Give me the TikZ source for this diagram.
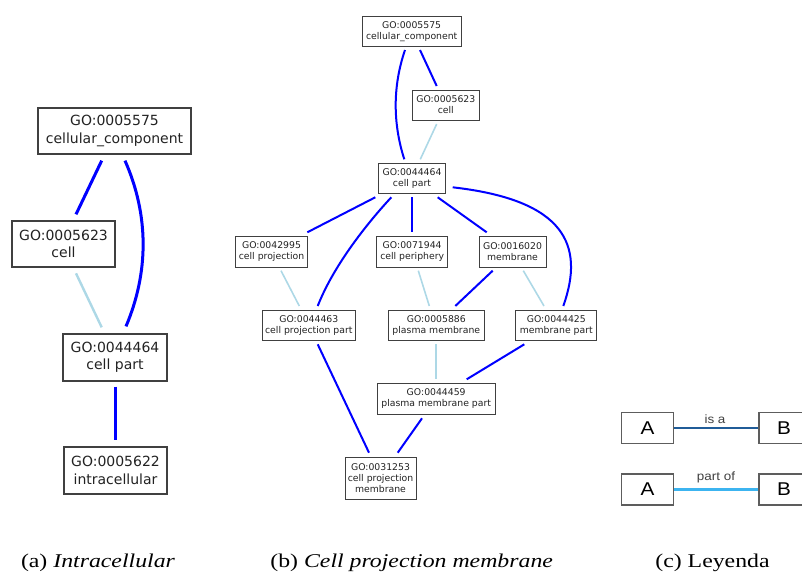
\documentclass[tikz,border=0pt]{standalone}
\usepackage{fontspec}
\usepackage{graphicx}
\usetikzlibrary{calc}
\setmainfont{Liberation Serif}
\newfontfamily\gofont{DejaVu Sans}
\newfontfamily\legfont{Liberation Sans}
\definecolor{isacol}{RGB}{0,0,255}
\definecolor{partcol}{RGB}{173,216,230}
\definecolor{boxcol}{RGB}{64,64,64}
\definecolor{txtcol}{RGB}{34,34,34}
\definecolor{legisacol}{RGB}{32,92,152}
\definecolor{legpartcol}{RGB}{60,180,240}
\tikzset{
  gobig/.style={draw=boxcol, line width=1.3pt, inner sep=0pt, align=center, text=txtcol,
    font=\gofont\fontsize{14}{17.3}\selectfont, minimum height=46pt},
  gosmall/.style={draw=boxcol, line width=1pt, inner sep=0pt, align=center, text=txtcol,
    font=\gofont\fontsize{9.3}{11}\selectfont, minimum height=30.6pt},
  isabig/.style={draw=isacol, line width=3pt},
  partbig/.style={draw=partcol, line width=2.4pt},
  isasmall/.style={draw=isacol, line width=2pt},
  partsmall/.style={draw=partcol, line width=1.6pt},
  legbox/.style={draw=boxcol!85, line width=1.5pt, inner sep=0pt, minimum width=51.6pt,
    minimum height=30.6pt, font=\legfont\fontsize{18.5}{20}\selectfont},
  leglabel/.style={inner sep=0pt, text=black!75, font=\legfont\fontsize{12}{14}\selectfont},
  caption/.style={inner sep=0pt, anchor=base, font=\fontsize{19.5}{22}\selectfont}
}
\begin{document}
\begin{tikzpicture}[x=1pt, y=-1pt]
\useasboundingbox (0,0) rectangle (802,571);

% ---------- (a) intracellular ----------
\node[gobig, minimum width=153pt] (acc) at (114.5,131) {GO:0005575\\cellular\_component};
\node[gobig, minimum width=103pt] (acell) at (63.5,244) {GO:0005623\\cell};
\node[gobig, minimum width=104pt, minimum height=47pt] (apart) at (115,357.5) {GO:0044464\\cell part};
\node[gobig, minimum width=103pt, minimum height=47pt] (aintra) at (115.5,470.5) {GO:0005622\\intracellular};

\draw[isabig] ($(acc.south)+(-12.8,6)$) -- ($(acell.north)+(12.5,-6)$);
\draw[isabig] ($(acc.south)+(10.5,6)$) .. controls (149,215) and (149,272) .. ($(apart.north)+(11,-7)$);
\draw[partbig] ($(acell.south)+(12.5,5.7)$) -- ($(apart.north)+(-13.3,-6)$);
\draw[isabig] ($(apart.south)+(0,5)$) -- ($(aintra.north)+(-0.5,-6)$);

% ---------- (b) cell projection membrane ----------
\node[gosmall, minimum width=98.7pt, minimum height=30pt] (b0) at (411.7,31.7) {GO:0005575\\cellular\_component};
\node[gosmall, minimum width=67pt, minimum height=30pt] (b1) at (445.8,105) {GO:0005623\\cell};
\node[gosmall, minimum width=67.4pt, minimum height=30pt] (b2) at (412,178.3) {GO:0044464\\cell part};
\node[gosmall, minimum width=71.6pt] (b3) at (271.5,252) {GO:0042995\\cell projection};
\node[gosmall, minimum width=71pt] (b4) at (412.2,252) {GO:0071944\\cell periphery};
\node[gosmall, minimum width=67pt] (b5) at (512.5,252) {GO:0016020\\membrane};
\node[gosmall, minimum width=93pt] (b6) at (308.8,325.3) {GO:0044463\\cell projection part};
\node[gosmall, minimum width=96pt] (b7) at (436.3,325.3) {GO:0005886\\plasma membrane};
\node[gosmall, minimum width=80.7pt] (b8) at (556.3,325.3) {GO:0044425\\membrane part};
\node[gosmall, minimum width=117.7pt] (b9) at (436.2,398.7) {GO:0044459\\plasma membrane part};
\node[gosmall, minimum width=71pt, minimum height=42pt] (b10) at (380.5,478.3) {GO:0031253\\cell projection\\membrane};

\draw[isasmall] ($(b0)+(-6.7,18.3)$) .. controls (392.7,86) and (392.7,123) .. ($(b2)+(-7.7,-19)$);
\draw[isasmall] ($(b0)+(8.3,18.3)$) -- ($(b1)+(-9.1,-19)$);
\draw[partsmall] ($(b1)+(-9.1,19)$) -- ($(b2)+(8.3,-19)$);
\draw[isasmall] ($(b2)+(-36.7,19)$) -- ($(b3)+(35.8,-19.7)$);
\draw[isasmall] ($(b2)+(-20.7,19)$) .. controls (372,218) and (335,262) .. ($(b6)+(8.9,-19.3)$);
\draw[isasmall] ($(b2)+(-0.3,19)$) -- ($(b4)+(-0.5,-19.7)$);
\draw[isasmall] ($(b2)+(25.7,19)$) -- ($(b5)+(-25.8,-19.7)$);
\draw[isasmall] ($(b2)+(40.7,9)$) .. controls (565,200) and (585,245) .. ($(b8)+(7,-19.3)$);
\draw[partsmall] ($(b3)+(9.5,18.7)$) -- ($(b6)+(-9.5,-19.3)$);
\draw[partsmall] ($(b4)+(6.1,18.7)$) -- ($(b7)+(-7,-19.3)$);
\draw[isasmall] ($(b5)+(-19.8,18.7)$) -- ($(b7)+(19,-19.3)$);
\draw[partsmall] ($(b5)+(10.8,18.7)$) -- ($(b8)+(-12.3,-19.3)$);
\draw[partsmall] ($(b7)+(-0.3,18.7)$) -- ($(b9)+(-0.2,-19.4)$);
\draw[isasmall] ($(b8)+(-32,19)$) -- ($(b9)+(30.5,-19.4)$);
\draw[isasmall] ($(b6)+(8.9,19)$) -- ($(b10)+(-11.5,-25.6)$);
\draw[isasmall] ($(b9)+(-14.2,19.6)$) -- ($(b10)+(17.2,-25.6)$);

% ---------- (c) legend ----------
\node[legbox] (la) at (647.5,428) {\scalebox{1.12}[1]{A}};
\node[legbox, minimum width=50pt] (lb) at (784,428) {\scalebox{1.12}[1]{B}};
\node[legbox] (lc) at (647.5,489.5) {\scalebox{1.12}[1]{A}};
\node[legbox, minimum width=50pt] (ld) at (784,489.5) {\scalebox{1.12}[1]{B}};
\draw[draw=legisacol, line width=1.8pt] (la.east) -- (lb.west);
\draw[draw=legpartcol, line width=2.4pt] ($(lc.east)+(0,-0.2)$) -- ($(ld.west)+(0,-0.2)$);
\node[leglabel] (lisa) at (715,419.3) {\scalebox{1.12}[1]{is a}};
\node[leglabel] (lpart) at (716,477.3) {\scalebox{1.12}[1]{part of}};

% ---------- captions ----------
\node[caption] (capa) at (98,567) {\scalebox{1.22}[1]{(a) \textit{Intracellular}}};
\node[caption] (capb) at (411.7,567) {\scalebox{1.22}[1]{(b) \textit{Cell projection membrane}}};
\node[caption] (capc) at (712.5,567) {\scalebox{1.22}[1]{(c) Leyenda}};
\end{tikzpicture}
\end{document}
